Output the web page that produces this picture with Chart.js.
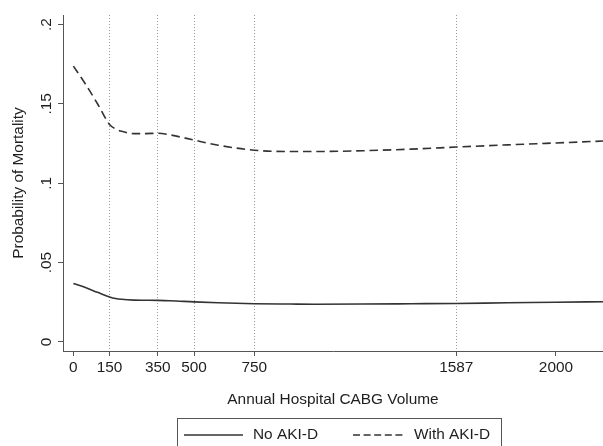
<!DOCTYPE html>
<html><head><meta charset="utf-8">
<script src="https://cdn.jsdelivr.net/npm/chart.js@4"></script>
<style>html,body{margin:0;padding:0;background:#fff}#wrap{width:603px;height:446px}</style>
</head><body><div id="wrap"><canvas id="c" width="603" height="446"></canvas></div>
<script>
const volumes   = [0, 50, 100, 150, 175, 200, 250, 300, 350, 400, 500, 600, 750, 900, 1000, 1200, 1400, 1587, 1800, 2000, 2195];
const noAkiD    = [0.0369, 0.0343, 0.0313, 0.0284, 0.0274, 0.0269, 0.0264, 0.0263, 0.0262, 0.0260, 0.0253, 0.0247, 0.0241, 0.0239, 0.0238, 0.0239, 0.0241, 0.0243, 0.0247, 0.0250, 0.0254];
const withAkiD  = [0.1738, 0.1625, 0.1501, 0.1370, 0.1342, 0.1327, 0.1313, 0.1313, 0.1315, 0.1305, 0.1272, 0.1240, 0.1208, 0.1200, 0.1200, 0.1205, 0.1215, 0.1228, 0.1242, 0.1254, 0.1266];
const seriesLabels = ['No AKI-D', 'With AKI-D'];
const xTicks    = [0, 150, 350, 500, 750, 1587, 2000];
const refLines  = [150, 350, 500, 750, 1587];
const yTicks    = [0, 0.05, 0.1, 0.15, 0.2];
const yTickLabels = ['0', '.05', '.1', '.15', '.2'];
const xTitle = 'Annual Hospital CABG Volume';
const yTitle = 'Probability of Mortality';

const FONT = '"Liberation Sans", Arial, Helvetica, sans-serif';
const FS = 15.4;
const TXT = '#1e1e1e';
const LINE = '#333';

const toPts = arr => arr.map((v, i) => ({x: volumes[i], y: v}));

const deco = {
  id: 'deco',
  afterDraw(chart) {
    const ctx = chart.ctx, ys = chart.scales.y;
    ctx.save();
    ctx.font = FS + 'px ' + FONT;
    ctx.fillStyle = TXT;
    ctx.textAlign = 'center';
    ctx.textBaseline = 'middle';
    yTicks.forEach((v, i) => {
      const py = ys.getPixelForValue(v);
      ctx.save();
      ctx.translate(47, py);
      ctx.rotate(-Math.PI / 2);
      ctx.fillText(yTickLabels[i], 0, 0);
      ctx.restore();
    });
    // legend box
    ctx.strokeStyle = '#555';
    ctx.lineWidth = 1;
    ctx.strokeRect(177.5, 418.5, 324, 40);
    const ly = 435;
    const ds = chart.data.datasets;
    const items = [{x0: 184, x1: 243, tx: 253}, {x0: 353, x1: 404, tx: 414}];
    items.forEach((it, i) => {
      ctx.save();
      ctx.strokeStyle = ds[i].borderColor;
      ctx.lineWidth = 1.4;
      ctx.setLineDash(i === 1 ? [7, 3.6] : []);
      ctx.beginPath();
      ctx.moveTo(it.x0, ly);
      ctx.lineTo(it.x1, ly);
      ctx.stroke();
      ctx.restore();
      ctx.textAlign = 'left';
      ctx.fillText(ds[i].label, it.tx, ly);
    });
    ctx.restore();
  }
};

new Chart(document.getElementById('c'), {
  type: 'line',
  data: {
    datasets: [
      {label: seriesLabels[0], data: toPts(noAkiD), borderColor: LINE, borderWidth: 1.6, pointRadius: 0, cubicInterpolationMode: 'monotone', fill: false},
      {label: seriesLabels[1], data: toPts(withAkiD), borderColor: LINE, borderWidth: 1.6, borderDash: [8.5, 4.8], pointRadius: 0, cubicInterpolationMode: 'monotone', fill: false}
    ]
  },
  options: {
    responsive: false,
    animation: false,
    devicePixelRatio: 1,
    layout: {padding: {top: 15, right: 0, left: 0, bottom: 37}},
    plugins: {legend: {display: false}, tooltip: {enabled: false}},
    scales: {
      x: {
        type: 'linear', min: -43, max: 2195,
        afterBuildTicks: s => { s.ticks = xTicks.map(v => ({value: v})); },
        afterFit: s => { s.height = 58; },
        ticks: {color: TXT, font: {family: FONT, size: FS}, padding: 3, maxRotation: 0, autoSkip: false,
                callback: v => String(v)},
        grid: {
          color: c => (c.tick && refLines.includes(c.tick.value)) ? '#9a9a9a' : 'rgba(0,0,0,0)',
          lineWidth: 1, tickLength: 5, tickColor: '#555', tickWidth: 1, tickBorderDash: []
        },
        border: {display: true, color: '#555', width: 1, dash: [1, 2]},
        title: {display: true, text: xTitle, color: TXT, font: {family: FONT, size: FS}, padding: {top: 0, bottom: 0}}
      },
      y: {
        type: 'linear', min: -0.00567, max: 0.206,
        afterBuildTicks: s => { s.ticks = yTicks.map(v => ({value: v})); },
        afterFit: s => { s.width = 63; },
        ticks: {display: false},
        grid: {drawOnChartArea: false, tickLength: 5, tickColor: '#555', color: '#555'},
        border: {display: true, color: '#555', width: 1},
        title: {display: true, text: yTitle, color: TXT, font: {family: FONT, size: FS}, padding: {top: 10, bottom: 0}}
      }
    }
  },
  plugins: [deco]
});
</script>
</body></html>
